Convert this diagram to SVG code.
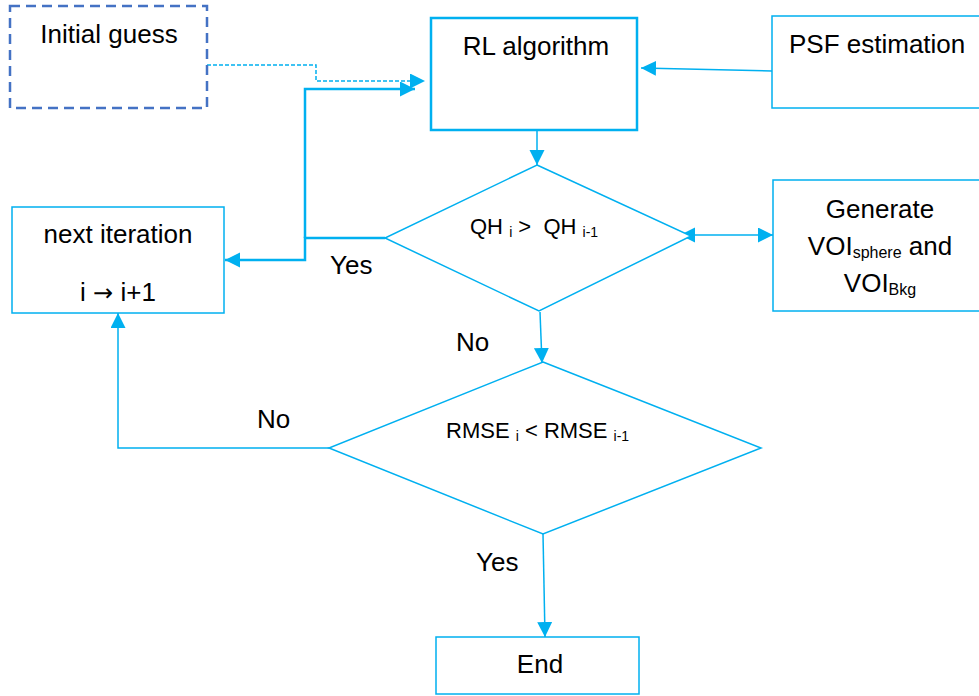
<svg xmlns="http://www.w3.org/2000/svg" width="979" height="696" viewBox="0 0 979 696">
<defs>
<style>
text{font-family:"Liberation Sans",Arial,sans-serif;fill:#000}
.lbl{font-size:26px}
.dt{font-size:22px}
.sub{font-size:14px}
.box{fill:#fff;stroke:#00B0F0;stroke-width:1.5}
.c{fill:none;stroke:#00B0F0;stroke-width:1.5}
.ct{fill:none;stroke:#00B0F0;stroke-width:2.5}
</style>
<marker id="ah" markerUnits="userSpaceOnUse" markerWidth="18" markerHeight="18" refX="15" refY="7.5" orient="auto">
<path d="M0,0 L15,7.5 L0,15 Z" fill="#00B0F0"/>
</marker>
<marker id="ahs" markerUnits="userSpaceOnUse" markerWidth="18" markerHeight="18" refX="15" refY="7.5" orient="auto-start-reverse">
<path d="M0,0 L15,7.5 L0,15 Z" fill="#00B0F0"/>
</marker>
</defs>
<rect width="979" height="696" fill="#fff"/>

<g id="connectors">
<polyline class="c" points="207,65 316,65 316,81 425,81" stroke-dasharray="4,2" marker-end="url(#ah)"/>
<polyline class="ct" points="305,238 305,89 415,89" marker-end="url(#ah)"/>
<polyline class="ct" points="385,238 305,238 305,260 225,260" marker-end="url(#ah)"/>
<line class="c" x1="772" y1="71" x2="641" y2="68" marker-end="url(#ah)"/>
<line class="c" x1="537" y1="130" x2="537" y2="165" marker-end="url(#ah)"/>
<line class="c" x1="680" y1="235" x2="773" y2="235" marker-start="url(#ahs)" marker-end="url(#ah)"/>
<line class="c" x1="540" y1="312" x2="542" y2="363" marker-end="url(#ah)"/>
<polyline class="c" points="329,448 118,448 118,313" marker-end="url(#ah)"/>
<line class="c" x1="543" y1="534" x2="545" y2="637" marker-end="url(#ah)"/>
<text class="lbl" x="330" y="274">Yes</text>
<text class="lbl" x="456" y="351">No</text>
<text class="lbl" x="257" y="428">No</text>
<text class="lbl" x="476" y="571">Yes</text>
</g>

<g id="initial-guess">
<rect x="10" y="6" width="197" height="102" fill="#fff" stroke="#4472C4" stroke-width="2.5" stroke-dasharray="10,6"/>
<text class="lbl" x="109" y="43" text-anchor="middle">Initial guess</text>
</g>

<g id="rl-algorithm">
<rect x="431" y="18" width="206" height="112" fill="#fff" stroke="#00B0F0" stroke-width="2.5"/>
<text class="lbl" x="536" y="55" text-anchor="middle">RL algorithm</text>
</g>

<g id="psf-estimation">
<rect class="box" x="772" y="16" width="212" height="92"/>
<text class="lbl" x="789" y="53">PSF estimation</text>
</g>

<g id="decision-qh">
<polygon class="box" points="537,165 691,236 539,311 385,238"/>
<text class="dt" x="470" y="234">QH <tspan class="sub" dy="3">i</tspan><tspan dy="-3"> &gt;&#160; QH </tspan><tspan class="sub" dy="3">i-1</tspan></text>
</g>

<g id="generate-voi">
<rect class="box" x="773" y="180" width="211" height="131"/>
<text class="lbl" x="880" y="218" text-anchor="middle">Generate</text>
<text class="lbl" x="880" y="255" text-anchor="middle">VOI<tspan font-size="16" dy="3">sphere</tspan><tspan dy="-3"> and</tspan></text>
<text class="lbl" x="880" y="292" text-anchor="middle">VOI<tspan font-size="16" dy="3">Bkg</tspan></text>
</g>

<g id="next-iteration">
<rect class="box" x="12" y="207" width="212" height="106"/>
<text class="lbl" x="118" y="243" text-anchor="middle">next iteration</text>
<text class="lbl" x="118" y="301" text-anchor="middle">i <tspan font-family="DejaVu Sans, sans-serif" font-size="24">→</tspan> i+1</text>
</g>

<g id="decision-rmse">
<polygon class="box" points="543,362 761,448 543,534 329,448"/>
<text class="dt" x="446" y="438">RMSE <tspan class="sub" dy="3">i</tspan><tspan dy="-3"> &lt; RMSE </tspan><tspan class="sub" dy="3">i-1</tspan></text>
</g>

<g id="end">
<rect class="box" x="436" y="637" width="203" height="57"/>
<text class="lbl" x="540" y="673" text-anchor="middle">End</text>
</g>
</svg>
